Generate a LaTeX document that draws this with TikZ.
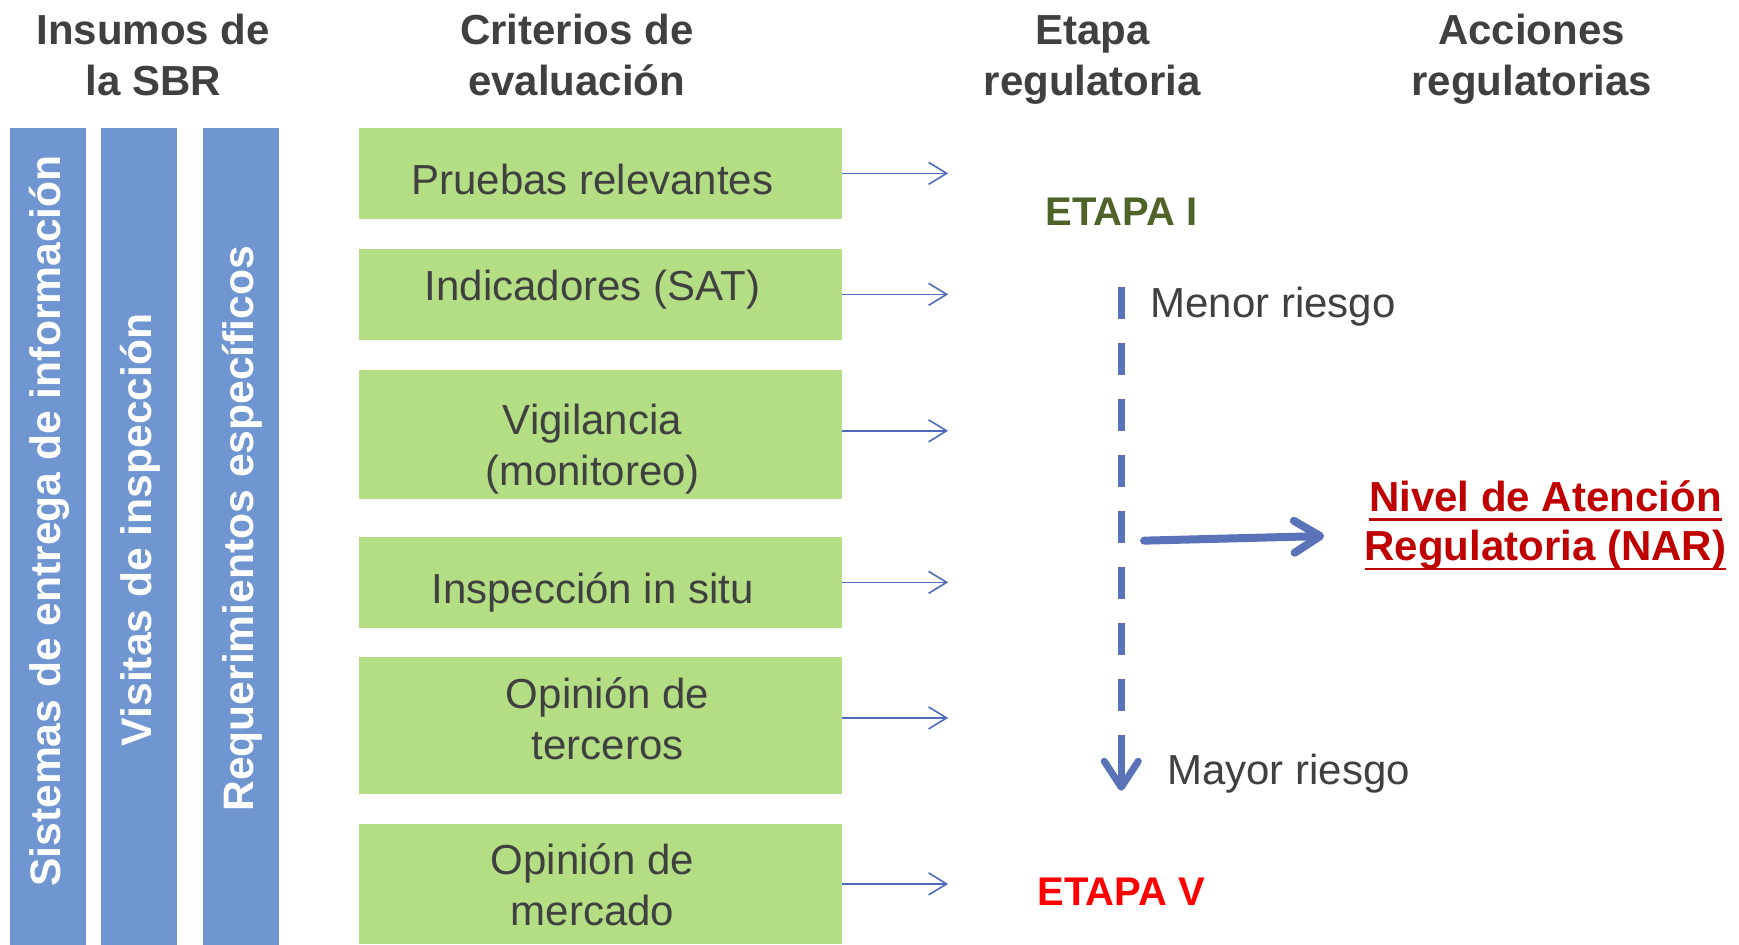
\documentclass[tikz,border=0pt]{standalone}
\usepackage{fontspec}
\setmainfont{Liberation Sans}
\usetikzlibrary{arrows.meta, positioning}

\definecolor{txtgray}{HTML}{404040}
\definecolor{barblue}{HTML}{7096D2}
\definecolor{critgreen}{HTML}{B3DE84}
\definecolor{linkblue}{HTML}{4F6BBB}
\definecolor{riskblue}{HTML}{5A72B8}
\definecolor{etapagreen}{HTML}{4F6228}
\definecolor{narred}{HTML}{C00000}
\definecolor{bggray}{HTML}{D2D2D2}

\pgfdeclareradialshading{bgglow}{\pgfpoint{0bp}{0bp}}{color(0bp)=(white); color(28bp)=(white); color(50bp)=(bggray); color(72bp)=(bggray)}

% underline used for the NAR label
\newcommand{\narul}[1]{\setbox0=\hbox{#1}\rlap{\rule[-4.8pt]{\wd0}{1.4pt}}\box0}

\begin{document}
\begin{tikzpicture}[x=0.5545pt, y=-0.5545pt,
                    every node/.style={inner sep=0pt, text=txtgray, font=\fontsize{21}{25.5}\selectfont},
                    heading/.style={font=\fontsize{21}{25.5}\selectfont\bfseries, align=center, anchor=north},
                    input/.style={rotate=90, fill=barblue, minimum width=408.4pt, minimum height=38pt},
                    inputtext/.style={rotate=90, text=white, font=\fontsize{21.3}{25.5}\selectfont\bfseries},
                    crit/.style={fill=critgreen, minimum width=241.5pt},
                    crittext/.style={align=center},
                    etapa/.style={font=\fontsize{20}{24}\selectfont\bfseries, anchor=base},
                    riesgo/.style={anchor=base west},
                    link/.style={draw=linkblue, line width=0.8pt, -{Straight Barb[length=9pt,width=11pt]}},
                    riskline/.style={draw=riskblue, line width=3.5pt, dash pattern=on 15.9pt off 12.1pt},
                    nararrow/.style={draw=riskblue, line width=4pt, line cap=round,
                                     -{Straight Barb[round,length=13pt,width=16pt]}}]
    \useasboundingbox (0,0) rectangle (1568,852);
    \clip (0,0) rectangle (1568,852);
    \shade[shading=bgglow] (-150,-450) rectangle (1718,1150);

    % column headings
    \node (insumos)   [heading] at (138,12)  {Insumos de\\la SBR};
    \node (criterios) [heading] at (520,12)  {Criterios de\\evaluación};
    \node (etapa)     [heading] at (985,14)  {Etapa\\regulatoria};
    \node (acciones)  [heading] at (1381,12) {Acciones\\regulatorias};

    % inputs
    \node (sistemas)  [input] at (43.2,483.7)  {};
    \node (visitas)   [input] at (125.3,483.7) {};
    \node (requer)    [input] at (217.3,483.7) {};
    \node (sistemas-txt) [inputtext] at ([shift={(1.5,-14)}]sistemas) {Sistemas de entrega de información};
    \node (visitas-txt)  [inputtext] at ([shift={(1.5,-6)}]visitas)   {Visitas de inspección};
    \node (requer-txt)   [inputtext] at ([shift={(1.5,-7)}]requer)    {Requerimientos específicos};

    % criteria
    \node (pruebas)     [crit, minimum height=45.4pt] at (541.2,156.3) {};
    \node (indicadores) [crit, minimum height=45.4pt] at (541.2,265.4) {};
    \node (vigilancia)  [crit, minimum height=64.4pt] at (541.2,391.7) {};
    \node (insitu)      [crit, minimum height=45.4pt] at (541.2,525.1) {};
    \node (terceros)    [crit, minimum height=68.4pt] at (541.2,654)   {};
    \node (mercado)     [crit, minimum height=60pt]   at (541.2,797)   {};

    \node (pruebas-txt)     [crittext] at ([shift={(-7,5.5)}]pruebas)     {Pruebas relevantes};
    \node (indicadores-txt) [crittext] at ([shift={(-7,-4)}]indicadores)  {Indicadores (SAT)};
    \node (vigilancia-txt)  [crittext] at ([shift={(-7,13)}]vigilancia)   {Vigilancia\\(monitoreo)};
    \node (insitu-txt)      [crittext] at ([shift={(-7,9)}]insitu)        {Inspección in situ};
    \node (terceros-txt)    [crittext] at ([shift={(6.6,-6)}]terceros)    {Opinión de\\terceros};
    \node (mercado-txt)     [crittext] at ([shift={(-7,1)}]mercado)       {Opinión de\\mercado};

    \foreach \n/\dy in {pruebas/0, indicadores/0, vigilancia/1.8, insitu/0, terceros/3.7, mercado/0}{
        \coordinate (\n-end) at ([xshift=53pt, yshift=\dy pt]\n.east);
        \draw[link] ([yshift=\dy pt]\n.east) -- (\n-end);
    }

    % stages
    \node (etapa1) [etapa, text=etapagreen] at (1011,203) {ETAPA I};
    \node (etapa5) [etapa, text=red]        at (1011,816) {ETAPA V};
    \node (menor)  [riesgo] at (1037,286) {Menor riesgo};
    \node (mayor)  [riesgo] at (1052,707) {Mayor riesgo};

    \coordinate (riesgoini) at (1011,259);
    \coordinate (riesgomid) at (1011,641.1);
    \coordinate (riesgotip) at (1011,663);
    \coordinate (riesgofin) at (1011,713);
    \draw[riskline] (riesgoini) -- (riesgomid);
    \draw[riskline, solid, -{Straight Barb[round,length=13pt,width=17pt]}] (riesgotip) -- (riesgofin);

    % actions
    \node (nar) [anchor=base, align=center, text=narred, font=\fontsize{21}{24.7}\selectfont\bfseries]
        at (1393.5,505.6) {\narul{Nivel de Atención}\\\narul{Regulatoria (NAR)}};
    \coordinate (narini) at (1031.6,487.5);
    \coordinate (narfin) at (1194,483.3);
    \draw[nararrow] (narini) -- (narfin);
\end{tikzpicture}
\end{document}
